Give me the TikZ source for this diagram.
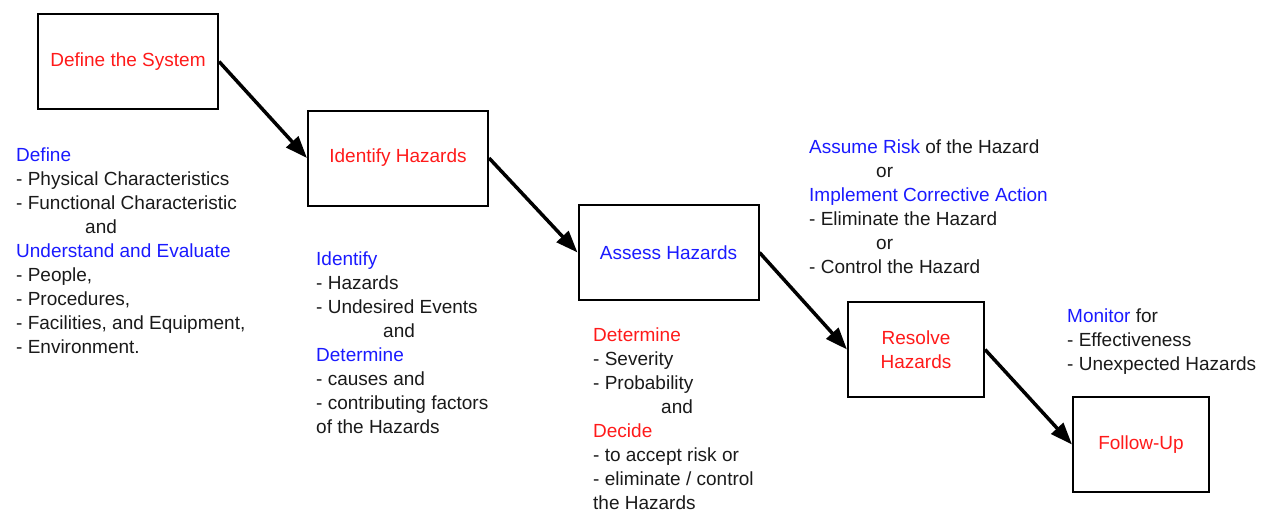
\documentclass[tikz,border=0pt]{standalone}
\usepackage{fontspec}
\setmainfont{Liberation Sans}
\usetikzlibrary{arrows.meta}
\definecolor{tred}{HTML}{FF1A1A}
\definecolor{tblue}{HTML}{1A1AFF}
\definecolor{ttext}{HTML}{1A1A1A}
\tikzset{
  stepbox/.style={draw=black, line width=2pt, minimum width=180pt, minimum height=95pt, inner sep=0pt, font=\fontsize{19}{24}\selectfont, align=center},
  smallbox/.style={stepbox, minimum width=136pt},
  flow/.style={line width=3.5pt, -{Triangle[length=22pt,width=16pt]}},
  info/.style={anchor=north west, inner sep=0pt, align=left, text=ttext, font=\fontsize{19}{24}\selectfont}
}
\newcommand{\bl}[1]{\textcolor{tblue}{#1}}
\newcommand{\rd}[1]{\textcolor{tred}{#1}}
\begin{document}
\begin{tikzpicture}[x=1pt,y=-1pt]
\useasboundingbox (0,0) rectangle (1262,512);
\node[stepbox] (define) at (128,61.5) {\rd{Define the System}};
\node[stepbox] (identify) at (398,158) {\rd{Identify Hazards}};
\node[stepbox] (assess) at (668.5,252.5) {\bl{Assess Hazards}};
\node[smallbox] (resolve) at (916,349.5) {\rd{Resolve}\\\rd{Hazards}};
\node[smallbox] (follow) at (1141,444.5) {\rd{Follow-Up}};

\draw[flow] (define.east) -- (identify.west);
\draw[flow] (identify.east) -- (assess.west);
\draw[flow] (assess.east) -- (resolve.west);
\draw[flow] (resolve.east) -- (follow.west);

\node[info] (t1) at (16,148) {\bl{Define}\\
- Physical Characteristics\\
- Functional Characteristic\\
\hspace*{69pt}and\\
\bl{Understand and Evaluate}\\
- People,\\
- Procedures,\\
- Facilities, and Equipment,\\
- Environment.};

\node[info] (t2) at (316,252) {\bl{Identify}\\
- Hazards\\
- Undesired Events\\
\hspace*{67pt}and\\
\bl{Determine}\\
- causes and\\
- contributing factors\\
of the Hazards};

\node[info] (t3) at (593,328) {\rd{Determine}\\
- Severity\\
- Probability\\
\hspace*{68pt}and\\
\rd{Decide}\\
- to accept risk or\\
- eliminate / control\\
the Hazards};

\node[info] (t4) at (809,140) {\bl{Assume Risk} of the Hazard\\
\hspace*{67pt}or\\
\bl{Implement Corrective Action}\\
- Eliminate the Hazard\\
\hspace*{67pt}or\\
- Control the Hazard};

\node[info] (t5) at (1067,309) {\bl{Monitor} for\\
- Effectiveness\\
- Unexpected Hazards};
\end{tikzpicture}
\end{document}
